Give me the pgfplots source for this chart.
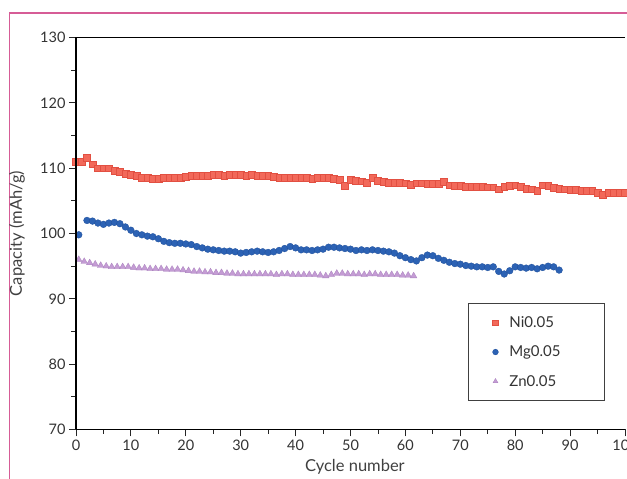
\documentclass[border=0pt]{standalone}
\usepackage{fontspec}
\setmainfont{Lato}
\usepackage{pgfplots}
\pgfplotsset{compat=1.18}
\definecolor{nired}{RGB}{242,105,90}
\definecolor{niredd}{RGB}{226,80,66}
\definecolor{mgblue}{RGB}{44,98,180}
\definecolor{mgblued}{RGB}{30,78,155}
\definecolor{znpur}{RGB}{196,156,212}
\definecolor{znpurd}{RGB}{170,130,190}
\definecolor{framepink}{RGB}{214,92,150}
\begin{document}
\begin{tikzpicture}
\useasboundingbox (-76pt,-49.5pt) rectangle (551pt,429.5pt);
\draw[framepink, line width=1.6pt] (-66.5pt,-60pt) -- (-66.5pt,416.5pt) -- (560pt,416.5pt);
\begin{axis}[
  scale only axis,
  width=549pt, height=392pt,
  xmin=0, xmax=100, ymin=70, ymax=130,
  xtick={0,10,...,100}, ytick={70,80,...,130},
  minor x tick num=1, minor y tick num=1,
  tick align=outside, tick pos=left,
  major tick length=7pt, minor tick length=4.5pt,
  tick style={black!85, line width=0.9pt},
  axis line style={draw=none},
  /pgf/number format/assume math mode=true,
  tick label style={font=\fontsize{14.5}{16}\selectfont, text=black!80},
  every axis x label/.style={at={(axis description cs:0.508,-0.0957)}, anchor=center},
  every axis y label/.style={at={(axis description cs:-0.1075,0.5)}, rotate=90, anchor=center},
  label style={font=\fontsize{16.5}{18}\selectfont, text=black!75},
  xlabel={Cycle number},
  ylabel={Capacity (mAh/g)},
  clip=false,
  legend style={at={(0.9636,0.3227)}, anchor=north east, draw=black!75, line width=0.8pt,
    inner xsep=18pt, inner ysep=11pt, row sep=13pt,
    font=\fontsize{15}{17}\selectfont, text=black!80},
  legend cell align=left,
  legend image code/.code={\path[draw=none, fill=none] (0pt,-3pt) rectangle (21pt,3pt); \draw[#1, mark size=2.9pt] plot coordinates {(9pt,0pt)};},
]
\addplot[only marks, mark=square*, mark size=3.4pt, mark options={fill=nired, draw=niredd, line width=0.3pt}] table {
x y
0 111.0
1 111.0
2 111.6
3 110.6
4 110.0
5 110.0
6 110.0
7 109.6
8 109.5
9 109.2
10 109.0
11 108.8
12 108.6
13 108.5
14 108.4
15 108.4
16 108.5
17 108.6
18 108.5
19 108.5
20 108.7
21 108.8
22 108.8
23 108.9
24 108.9
25 109.0
26 109.0
27 108.9
28 109.0
29 109.0
30 109.0
31 108.9
32 109.0
33 108.9
34 108.8
35 108.8
36 108.7
37 108.6
38 108.5
39 108.5
40 108.5
41 108.5
42 108.5
43 108.4
44 108.5
45 108.5
46 108.5
47 108.4
48 108.2
49 107.3
50 108.2
51 108.1
52 108.0
53 107.8
54 108.6
55 108.1
56 107.9
57 107.8
58 107.8
59 107.8
60 107.7
61 107.5
62 107.7
63 107.7
64 107.6
65 107.6
66 107.6
67 107.9
68 107.4
69 107.3
70 107.3
71 107.2
72 107.2
73 107.2
74 107.2
75 107.1
76 107.1
77 106.8
78 107.2
79 107.3
80 107.4
81 107.2
82 106.9
83 106.8
84 106.5
85 107.4
86 107.3
87 107.0
88 106.9
89 106.8
90 106.7
91 106.7
92 106.6
93 106.6
94 106.5
95 106.2
96 106.0
97 106.3
98 106.3
99 106.3
100 106.3
};
\addlegendentry{Ni0.05}
\addplot[only marks, mark=*, mark size=3.4pt, mark options={fill=mgblue, draw=mgblued, line width=0.3pt}] table {
x y
0.5 99.8
2 102.0
3 101.9
4 101.6
5 101.4
6 101.6
7 101.7
8 101.5
9 101.0
10 100.5
11 100.0
12 99.8
13 99.6
14 99.5
15 99.2
16 98.8
17 98.6
18 98.5
19 98.5
20 98.4
21 98.3
22 98.0
23 97.8
24 97.6
25 97.5
26 97.4
27 97.3
28 97.3
29 97.2
30 97.0
31 97.1
32 97.2
33 97.3
34 97.2
35 97.1
36 97.2
37 97.4
38 97.7
39 98.0
40 97.8
41 97.5
42 97.5
43 97.4
44 97.5
45 97.6
46 97.9
47 97.9
48 97.8
49 97.7
50 97.6
51 97.4
52 97.5
53 97.4
54 97.5
55 97.4
56 97.3
57 97.2
58 97.0
59 96.6
60 96.3
61 96.0
62 95.8
63 96.3
64 96.7
65 96.6
66 96.2
67 95.9
68 95.6
69 95.4
70 95.3
71 95.1
72 95.0
73 94.9
74 94.9
75 94.8
76 94.9
77 94.2
78 93.8
79 94.3
80 94.9
81 94.8
82 94.7
83 94.8
84 94.6
85 94.8
86 95.0
87 94.9
88 94.4
};
\addlegendentry{Mg0.05\rule{24pt}{0pt}}
\addplot[only marks, mark=triangle*, mark size=3.8pt, mark options={fill=znpur, draw=znpurd, line width=0.3pt}] table {
x y
0.5 96.0
1.5 95.7
2.5 95.5
3.5 95.3
4.5 95.1
5.5 95.0
6.5 94.9
7.5 94.9
8.5 94.9
9.5 94.9
10.5 94.8
11.5 94.7
12.5 94.7
13.5 94.6
14.5 94.6
15.5 94.6
16.5 94.5
17.5 94.5
18.5 94.5
19.5 94.4
20.5 94.3
21.5 94.2
22.5 94.2
23.5 94.1
24.5 94.1
25.5 94.0
26.5 94.0
27.5 93.9
28.5 93.9
29.5 93.8
30.5 93.8
31.5 93.8
32.5 93.8
33.5 93.8
34.5 93.8
35.5 93.8
36.5 93.7
37.5 93.8
38.5 93.8
39.5 93.7
40.5 93.7
41.5 93.7
42.5 93.7
43.5 93.7
44.5 93.6
45.5 93.5
46.5 93.7
47.5 93.9
48.5 93.9
49.5 93.8
50.5 93.8
51.5 93.8
52.5 93.7
53.5 93.8
54.5 93.8
55.5 93.7
56.5 93.7
57.5 93.7
58.5 93.7
59.5 93.6
60.5 93.6
61.5 93.5
};
\addlegendentry{Zn0.05}
\end{axis}
\draw[black, line width=1.8pt] (0pt,0pt) -- (0pt,392pt) -- (549pt,392pt);
\draw[black, line width=1.2pt] (0pt,0pt) -- (549pt,0pt);
\end{tikzpicture}
\end{document}
